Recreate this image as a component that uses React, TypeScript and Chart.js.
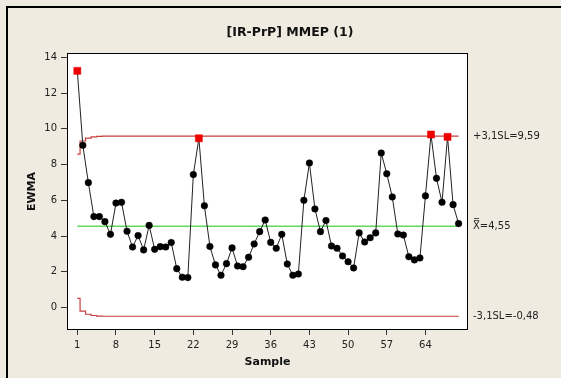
import React, { useEffect, useRef } from 'react';
import { Chart, registerables } from 'chart.js';

Chart.register(...registerables);

// ---- data ----
const EWMA = [
  13.24, 9.08, 6.99, 5.09, 5.09, 4.81, 4.1, 5.85, 5.89, 4.27,
  3.39, 4.03, 3.23, 4.6, 3.26, 3.41, 3.39, 3.64, 2.18, 1.7,
  1.68, 7.44, 9.47, 5.7, 3.42, 2.39, 1.81, 2.46, 3.34, 2.33,
  2.29, 2.82, 3.56, 4.25, 4.9, 3.65, 3.32, 4.1, 2.44, 1.81,
  1.88, 6.0, 8.09, 5.52, 4.25, 4.87, 3.45, 3.32, 2.89, 2.57,
  2.22, 4.18, 3.67, 3.91, 4.18, 8.65, 7.49, 6.19, 4.12, 4.06,
  2.85, 2.67, 2.78, 6.25, 9.68, 7.23, 5.89, 9.55, 5.76, 4.7,
];
const OUT_OF_CONTROL = [1, 23, 65, 68];
const CENTER = 4.55;
const UCL_START = [8.58, 9.32, 9.48, 9.55, 9.58];
const UCL_FINAL = 9.59;
const LCL_START = [0.52, -0.2, -0.37, -0.44, -0.47];
const LCL_FINAL = -0.48;
const X_TICKS = [1, 8, 15, 22, 29, 36, 43, 50, 57, 64];
const Y_TICKS = [0, 2, 4, 6, 8, 10, 12, 14];
const TITLE = '[IR-PrP] MMEP (1)';
const X_TITLE = 'Sample';
const Y_TITLE = 'EWMA';
const UCL_LABEL = '+3,1SL=9,59';
const CENTER_LABEL = 'X\u033F=4,55';
const LCL_LABEL = '-3,1SL=-0,48';

const BG = '#efebe1';
const FONT = '"DejaVu Sans", Verdana, sans-serif';
const LIMIT_COLOR = '#c8403c';
const CENTER_COLOR = '#62d862';

const SAMPLES = EWMA.map((_, i) => i + 1);

const framePlugin = {
  id: 'frame',
  beforeDraw(chart: any) {
    const { ctx, width, height, chartArea: a } = chart;
    ctx.save();
    ctx.fillStyle = BG;
    ctx.fillRect(0, 0, width, height);
    ctx.fillStyle = '#ffffff';
    ctx.fillRect(a.left, a.top, a.right - a.left, a.bottom - a.top);
    ctx.strokeStyle = '#000';
    ctx.lineWidth = 2;
    ctx.beginPath();
    ctx.moveTo(7, height);
    ctx.lineTo(7, 7);
    ctx.lineTo(width, 7);
    ctx.stroke();
    ctx.restore();
  },
  beforeDatasetsDraw(chart: any) {
    const { ctx, chartArea: a } = chart;
    ctx.save();
    ctx.strokeStyle = '#000';
    ctx.lineWidth = 1;
    ctx.strokeRect(a.left + 0.5, a.top + 0.5, a.right - a.left - 1, a.bottom - a.top - 1);
    ctx.restore();
  },
  afterDraw(chart: any) {
    const { ctx, scales } = chart;
    const y = scales.y;
    ctx.save();
    ctx.fillStyle = '#111';
    ctx.font = `bold 12.5px ${FONT}`;
    ctx.textAlign = 'center';
    ctx.textBaseline = 'middle';
    ctx.fillText(TITLE, 290, 33);
    ctx.font = `10px ${FONT}`;
    ctx.textAlign = 'left';
    ctx.fillStyle = '#222';
    ctx.fillText(UCL_LABEL, 473, y.getPixelForValue(UCL_FINAL));
    ctx.fillText(CENTER_LABEL, 473, y.getPixelForValue(CENTER));
    ctx.fillText(LCL_LABEL, 473, y.getPixelForValue(LCL_FINAL));
    ctx.restore();
  },
};

export default function App() {
  const ref = useRef<HTMLCanvasElement | null>(null);

  useEffect(() => {
    document.body.style.margin = '0';
    const canvas = ref.current;
    if (!canvas) return;

    const ewmaPts = SAMPLES.map((s, i) => ({ x: s, y: EWMA[i] }));
    const uclPts = SAMPLES.map((s, i) => ({ x: s, y: i < UCL_START.length ? UCL_START[i] : UCL_FINAL }));
    const lclPts = SAMPLES.map((s, i) => ({ x: s, y: i < LCL_START.length ? LCL_START[i] : LCL_FINAL }));
    const centerPts = [
      { x: SAMPLES[0], y: CENTER },
      { x: SAMPLES[SAMPLES.length - 1], y: CENTER },
    ];
    const isOut = (ctx: any) => OUT_OF_CONTROL.includes(ctx.dataIndex + 1);

    const tickFont = { family: FONT, size: 10 };
    const titleFont = { family: FONT, size: 11, weight: 'bold' as const };

    const chart = new Chart(canvas, {
      type: 'line',
      data: {
        datasets: [
          {
            data: ewmaPts,
            borderColor: '#222',
            borderWidth: 1,
            pointStyle: (ctx: any) => (isOut(ctx) ? 'rect' : 'circle'),
            pointRadius: (ctx: any) => (isOut(ctx) ? 5 : 3.3),
            pointBackgroundColor: (ctx: any) => (isOut(ctx) ? '#ee0000' : '#000'),
            pointBorderColor: (ctx: any) => (isOut(ctx) ? '#ee0000' : '#000'),
            pointBorderWidth: 0.5,
            tension: 0,
          },
          {
            data: uclPts,
            borderColor: LIMIT_COLOR,
            borderWidth: 1.2,
            pointRadius: 0,
            stepped: 'middle',
          },
          {
            data: lclPts,
            borderColor: LIMIT_COLOR,
            borderWidth: 1.2,
            pointRadius: 0,
            stepped: 'middle',
          },
          {
            data: centerPts,
            borderColor: CENTER_COLOR,
            borderWidth: 1.5,
            pointRadius: 0,
          },
        ],
      },
      options: {
        animation: false,
        responsive: false,
        devicePixelRatio: 1,
        layout: { padding: { left: 22, top: 53, right: 93, bottom: 8 } },
        plugins: {
          legend: { display: false },
          tooltip: { enabled: false },
          title: { display: false },
        },
        scales: {
          x: {
            type: 'linear',
            min: -0.865,
            max: 71.7,
            afterBuildTicks: (s: any) => {
              s.ticks = X_TICKS.map((v) => ({ value: v }));
            },
            afterFit: (s: any) => {
              s.height = 40;
            },
            grid: { drawOnChartArea: false, tickLength: 5, color: '#333', tickColor: '#333' },
            border: { display: false },
            ticks: {
              font: tickFont,
              color: '#222',
              padding: 4,
              maxRotation: 0,
              autoSkip: false,
              callback: (v: any) => String(v),
            },
            title: {
              display: true,
              text: X_TITLE,
              font: titleFont,
              color: '#111',
              padding: { top: 0, bottom: 1 },
            },
          },
          y: {
            type: 'linear',
            min: -1.25,
            max: 14.24,
            afterBuildTicks: (s: any) => {
              s.ticks = Y_TICKS.map((v) => ({ value: v }));
            },
            afterFit: (s: any) => {
              s.width = 45;
            },
            grid: { drawOnChartArea: false, tickLength: 6, color: '#333', tickColor: '#333' },
            border: { display: false },
            ticks: {
              font: tickFont,
              color: '#222',
              padding: 4,
              autoSkip: false,
              callback: (v: any) => String(v),
            },
            title: {
              display: true,
              text: Y_TITLE,
              font: titleFont,
              color: '#111',
              padding: { top: 4, bottom: 0 },
            },
          },
        },
      },
      plugins: [framePlugin],
    });

    return () => chart.destroy();
  }, []);

  return (
    <div style={{ width: 561, height: 378 }}>
      <canvas ref={ref} width={561} height={378} style={{ display: 'block' }} />
    </div>
  );
}
